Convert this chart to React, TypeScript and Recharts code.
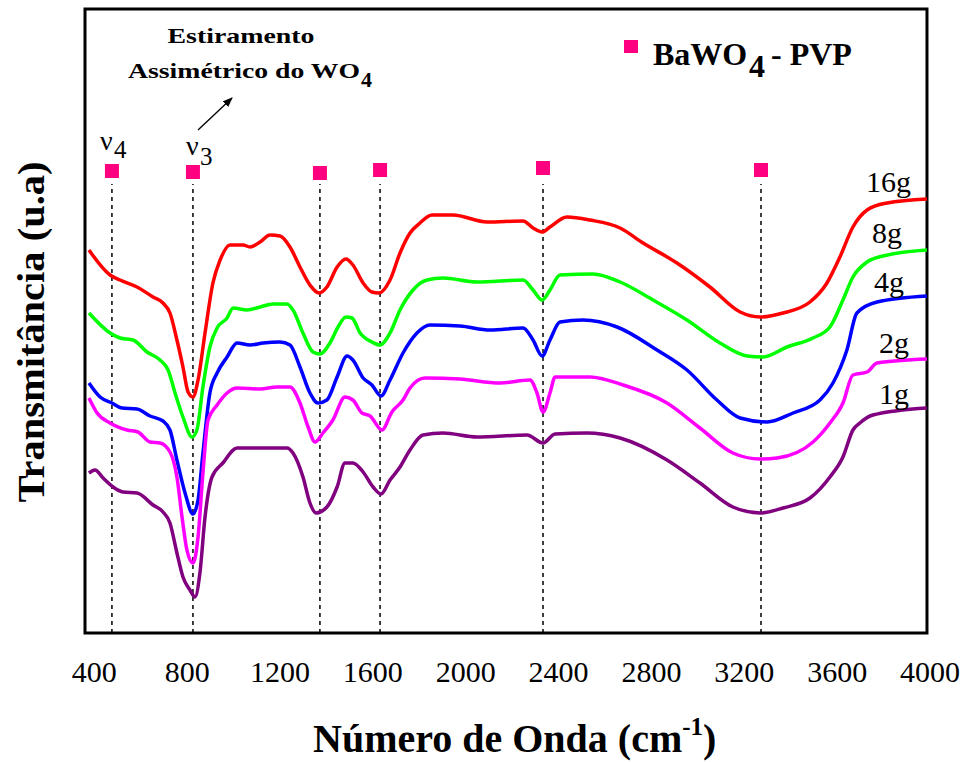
import { ComposedChart, Line, Scatter, XAxis, YAxis, ReferenceLine, ReferenceArea } from 'recharts'

// wavenumber (cm-1) / transmittance (arbitrary units, offset per sample)
const wn16 = [377, 468, 511, 584, 653, 696, 726, 756, 782, 804, 825, 847, 877, 911, 942, 985, 1041, 1071, 1114, 1157, 1200, 1243, 1286, 1329, 1368, 1402, 1446, 1484, 1514, 1558, 1596, 1626, 1674, 1717, 1760, 1803, 1855, 1945, 2092, 2247, 2290, 2329, 2363, 2436, 2535, 2665, 2764, 2910, 3052, 3182, 3268, 3367, 3483, 3556, 3612, 3668, 3729, 3815, 3987]
const t16 = [383, 358, 353, 346, 336, 330, 320, 293, 266, 241, 236, 253, 300, 350, 373, 388, 388, 386, 391, 398, 397, 386, 366, 348, 340, 346, 366, 374, 368, 350, 341, 340, 353, 380, 400, 410, 418, 418, 411, 412, 405, 401, 406, 416, 413, 405, 390, 370, 346, 321, 316, 320, 331, 350, 376, 406, 423, 430, 434]

const wn8 = [377, 468, 511, 567, 627, 683, 718, 748, 782, 821, 842, 868, 898, 929, 972, 998, 1058, 1114, 1170, 1230, 1256, 1299, 1342, 1372, 1415, 1450, 1484, 1510, 1545, 1596, 1631, 1674, 1717, 1773, 1833, 1902, 2049, 2247, 2290, 2329, 2363, 2406, 2548, 2665, 2807, 2953, 3095, 3212, 3281, 3384, 3496, 3569, 3625, 3668, 3729, 3798, 3987]
const t8 = [320, 300, 295, 293, 281, 273, 263, 240, 216, 196, 203, 246, 286, 305, 315, 325, 323, 326, 329, 329, 323, 300, 281, 279, 290, 306, 316, 315, 300, 291, 288, 300, 323, 343, 353, 355, 351, 353, 343, 333, 343, 358, 359, 351, 333, 313, 290, 277, 276, 286, 295, 306, 333, 356, 371, 377, 383]

const wn4 = [377, 425, 476, 519, 584, 640, 696, 726, 756, 791, 825, 847, 868, 898, 929, 972, 1015, 1071, 1127, 1200, 1243, 1286, 1329, 1364, 1402, 1446, 1489, 1514, 1558, 1596, 1635, 1674, 1730, 1790, 1846, 1975, 2105, 2247, 2290, 2329, 2363, 2406, 2505, 2652, 2824, 2953, 3082, 3182, 3298, 3410, 3526, 3582, 3642, 3685, 3772, 3987]
const t4 = [250, 236, 230, 225, 224, 217, 212, 203, 173, 140, 119, 133, 180, 240, 260, 276, 290, 288, 290, 291, 288, 266, 240, 230, 233, 256, 277, 273, 255, 248, 237, 253, 280, 300, 308, 307, 303, 305, 293, 277, 293, 311, 313, 306, 283, 263, 233, 215, 211, 220, 233, 250, 283, 320, 331, 337]

const wn2 = [377, 412, 468, 541, 588, 640, 683, 726, 756, 778, 799, 825, 847, 868, 890, 929, 972, 1015, 1114, 1187, 1243, 1286, 1321, 1351, 1385, 1428, 1480, 1514, 1553, 1588, 1639, 1682, 1730, 1760, 1825, 1975, 2148, 2277, 2307, 2333, 2363, 2385, 2535, 2678, 2867, 3009, 3151, 3268, 3341, 3496, 3569, 3625, 3668, 3729, 3772, 3987]
const t2 = [235, 220, 210, 203, 201, 191, 190, 181, 156, 116, 83, 70, 96, 160, 213, 228, 240, 245, 244, 246, 246, 230, 206, 191, 200, 213, 236, 233, 220, 217, 203, 221, 233, 245, 255, 254, 250, 253, 240, 221, 240, 256, 256, 248, 230, 205, 180, 174, 175, 191, 210, 230, 258, 261, 270, 274]

const wn1 = [377, 403, 438, 481, 524, 584, 653, 696, 726, 756, 782, 812, 834, 855, 877, 907, 954, 1015, 1114, 1230, 1256, 1299, 1329, 1355, 1402, 1446, 1480, 1514, 1558, 1601, 1635, 1674, 1717, 1760, 1816, 1902, 2049, 2264, 2333, 2385, 2522, 2665, 2867, 3009, 3151, 3268, 3367, 3483, 3569, 3625, 3668, 3698, 3754, 3987]
const t1 = [160, 163, 155, 146, 141, 140, 128, 121, 110, 80, 56, 43, 36, 60, 116, 156, 170, 185, 185, 185, 180, 156, 130, 120, 126, 146, 170, 170, 161, 146, 139, 153, 166, 183, 198, 200, 196, 198, 190, 199, 200, 195, 173, 150, 126, 120, 125, 135, 156, 176, 203, 210, 218, 225]

// BaWO4 - PVP band positions (markers + dashed guides)
const peakWn = [476, 825, 1372, 1631, 2333, 3272]
const peakT = [462, 461, 460, 463, 465, 463]

const xTicks = [400, 800, 1200, 1600, 2000, 2400, 2800, 3200, 3600, 4000]

const zip = (xs: number[], ys: number[]) =>
  xs.map((x, i) => ({ x, y: ys[i] })).filter(p => p.y !== undefined)

const series = [
  { name: '16g', color: '#ff0000', data: zip(wn16, t16) },
  { name: '8g', color: '#00ff00', data: zip(wn8, t8) },
  { name: '4g', color: '#0000ff', data: zip(wn4, t4) },
  { name: '2g', color: '#ff00ff', data: zip(wn2, t2) },
  { name: '1g', color: '#800080', data: zip(wn1, t1) },
]
const peaks = zip(peakWn, peakT)

const serif = '"Liberation Serif", "Times New Roman", serif'
const pink = '#ff0080'

const Tick = ({ x, payload }: any) => (
  <text x={x} y={682} textAnchor="middle" fontSize={30} fontFamily={serif} fill="#000">
    {payload.value}
  </text>
)

const Square = ({ cx, cy }: any) => <rect x={cx - 7} y={cy - 7} width={14} height={14} fill={pink} />

export default function App() {
  return (
    <div style={{ position: 'absolute', left: 0, top: 0, width: 968, height: 762, background: '#fff' }}>
      <ComposedChart width={968} height={762} margin={{ top: 8, right: 38, left: 85, bottom: 69 }}>
        <XAxis
          type="number"
          dataKey="x"
          domain={[360, 4000]}
          ticks={xTicks}
          interval={0}
          allowDataOverflow
          axisLine={false}
          tickLine={false}
          tick={<Tick />}
          height={60}
        />
        <YAxis type="number" dataKey="y" domain={[0, 625]} hide allowDataOverflow />
        {peakWn.map(w => (
          <ReferenceLine
            key={w}
            segment={[{ x: w, y: 0 }, { x: w, y: 449 }]}
            stroke="#000"
            strokeWidth={1.5}
            strokeDasharray="4 4"
          />
        ))}
        {series.map(s => (
          <Line
            key={s.name}
            data={s.data}
            dataKey="y"
            type="monotone"
            stroke={s.color}
            strokeWidth={3.5}
            dot={false}
            isAnimationActive={false}
          />
        ))}
        <Scatter data={peaks} dataKey="y" shape={<Square />} isAnimationActive={false} />
        <ReferenceArea x1={360} x2={3987} y1={0} y2={624} fill="none" stroke="#000" strokeWidth={3} />
      </ComposedChart>
      <svg width={968} height={762} style={{ position: 'absolute', left: 0, top: 0, pointerEvents: 'none' }} fontFamily={serif}>
        <defs>
          <marker id="ah" markerWidth="10" markerHeight="8" refX="9" refY="4" orient="auto" markerUnits="userSpaceOnUse">
            <path d="M0,0 L10,4 L0,8 Z" fill="#000" />
          </marker>
        </defs>
        <text x={241} y={43} textAnchor="middle" fontSize={22} fontWeight="bold" textLength={147} lengthAdjust="spacingAndGlyphs">Estiramento</text>
        <text x={128} y={78} fontSize={22} fontWeight="bold" textLength={232} lengthAdjust="spacingAndGlyphs">Assimétrico do WO</text>
        <text x={361} y={87} fontSize={22} fontWeight="bold">4</text>
        <line x1={198} y1={130} x2={232} y2={98} stroke="#000" strokeWidth={1.3} markerEnd="url(#ah)" />

        <text x={100} y={150} fontSize={28}>ν</text>
        <text x={114} y={158} fontSize={25}>4</text>
        <text x={186} y={155} fontSize={28}>ν</text>
        <text x={200} y={165} fontSize={25}>3</text>

        <rect x={624} y={40} width={14} height={13} fill={pink} />
        <text x={653} y={65} fontSize={32} fontWeight="bold">BaWO</text>
        <text x={749} y={77} fontSize={32} fontWeight="bold">4</text>
        <text x={771} y={65} fontSize={32} fontWeight="bold">{' - PVP'}</text>

        <text x={866} y={192} fontSize={30}>16g</text>
        <text x={872} y={243} fontSize={30}>8g</text>
        <text x={874} y={292} fontSize={30}>4g</text>
        <text x={879} y={353} fontSize={30}>2g</text>
        <text x={879} y={404} fontSize={30}>1g</text>

        <text transform="translate(44,332) rotate(-90)" textAnchor="middle" fontSize={38} fontWeight="bold" textLength={341} lengthAdjust="spacingAndGlyphs">Transmitância (u.a)</text>

        <text x={313} y={752} fontSize={40} fontWeight="bold">
          <tspan>Número de Onda (cm</tspan>
          <tspan fontSize={25} dy={-17}>-1</tspan>
          <tspan dy={17}>)</tspan>
        </text>
      </svg>
    </div>
  )
}
